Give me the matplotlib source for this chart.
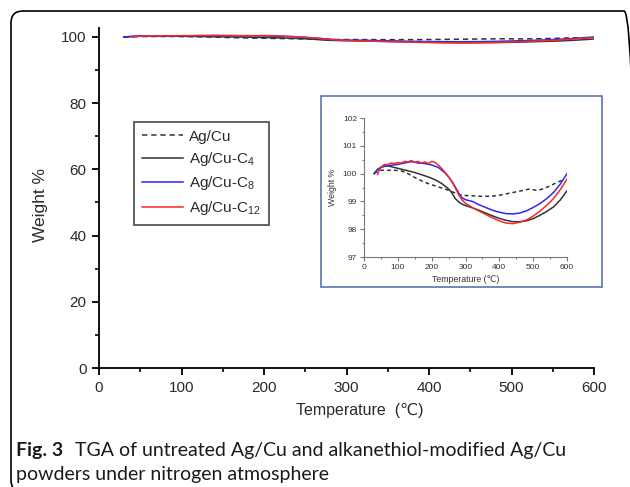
import matplotlib
matplotlib.use("Agg")
import matplotlib.pyplot as plt
import matplotlib.patches as mpatches
from matplotlib.transforms import IdentityTransform

# ---------------- data ----------------
agcu_T = [30, 40, 50, 70, 90, 110, 130, 150, 170, 190, 210, 230, 250, 270, 290, 320, 350, 380,
          400, 420, 440, 460, 480, 490, 500, 510, 530, 550, 570, 590]
agcu_W = [100.0, 100.08, 100.12, 100.12, 100.12, 100.10, 100.0, 99.86, 99.74, 99.64, 99.56, 99.48,
          99.40, 99.30, 99.22, 99.20, 99.18, 99.19, 99.22, 99.27, 99.32, 99.37, 99.42, 99.45, 99.42,
          99.40, 99.45, 99.56, 99.68, 99.78]

c4_T = [30, 40, 50, 60, 70, 90, 110, 130, 150, 170, 190, 210, 230, 250, 260, 270, 280, 290, 300,
        320, 340, 360, 380, 400, 420, 440, 460, 480, 500, 520, 540, 560, 580, 600]
c4_W = [100.0, 100.15, 100.22, 100.26, 100.28, 100.22, 100.16, 100.10, 100.04, 99.96, 99.88, 99.78,
        99.64, 99.45, 99.30, 99.10, 98.98, 98.90, 98.85, 98.77, 98.68, 98.58, 98.48, 98.39, 98.32,
        98.27, 98.27, 98.30, 98.38, 98.50, 98.64, 98.80, 99.05, 99.38]

c8_T = [30, 40, 50, 60, 80, 100, 120, 140, 160, 180, 200, 220, 240, 250, 260, 270, 280, 290, 300,
        320, 340, 360, 380, 400, 420, 440, 460, 480, 500, 520, 540, 560, 580, 600]
c8_W = [100.0, 100.15, 100.23, 100.27, 100.30, 100.33, 100.38, 100.43, 100.38, 100.36, 100.31,
        100.22, 100.02, 99.88, 99.72, 99.52, 99.30, 99.13, 99.06, 99.00, 98.88, 98.78, 98.68, 98.61,
        98.56, 98.55, 98.58, 98.66, 98.78, 98.92, 99.10, 99.32, 99.62, 100.0]

c12_T = [40, 45, 50, 60, 70, 80, 90, 100, 110, 120, 130, 140, 150, 160, 170, 180, 190, 200, 210,
         220, 230, 240, 250, 260, 270, 280, 290, 300, 320, 340, 360, 380, 400, 420, 440, 460, 480,
         500, 520, 540, 560, 580, 600]
c12_W = [99.97, 100.12, 100.22, 100.33, 100.32, 100.38, 100.36, 100.40, 100.38, 100.44, 100.42,
         100.47, 100.41, 100.44, 100.38, 100.42, 100.36, 100.44, 100.40, 100.30, 100.18, 100.04,
         99.88, 99.70, 99.48, 99.24, 99.05, 98.93, 98.78, 98.65, 98.53, 98.41, 98.30, 98.22, 98.20,
         98.25, 98.33, 98.47, 98.65, 98.86, 99.10, 99.42, 99.80]

labels = ["Ag/Cu", "Ag/Cu-C$_{4}$", "Ag/Cu-C$_{8}$", "Ag/Cu-C$_{12}$"]
main_xticks = [0, 100, 200, 300, 400, 500, 600]
main_yticks = [0, 20, 40, 60, 80, 100]
inset_yticks = [97, 98, 99, 100, 101, 102]
caption_bold = "Fig. 3"
caption_line1 = "TGA of untreated Ag/Cu and alkanethiol-modified Ag/Cu"
caption_line2 = "powders under nitrogen atmosphere"

# ---------------- style ----------------
sans = ["Liberation Sans", "DejaVu Sans"]
cap_family = ["Lato", "DejaVu Sans"]
plt.rcParams["font.family"] = sans
plt.rcParams["mathtext.fontset"] = "custom"
plt.rcParams["mathtext.rm"] = "Liberation Sans"
plt.rcParams["mathtext.it"] = "Liberation Sans"

series = [
    (agcu_T, agcu_W, dict(color="#333333", ls=(0, (3.5, 2.5)), lw=1.1)),
    (c4_T, c4_W, dict(color="#333333", ls="-", lw=1.1)),
    (c8_T, c8_W, dict(color="#2a2af0", ls="-", lw=1.1)),
    (c12_T, c12_W, dict(color="#f22a2a", ls="-", lw=1.1)),
]

W, H = 630, 487
fig = plt.figure(figsize=(W / 100, H / 100), dpi=100)

def fx(px):
    return px / W

def fy(py):
    return 1 - py / H

# ---------------- main axes ----------------
ax = fig.add_axes([fx(99), fy(368), fx(594) - fx(99), fy(28) - fy(368)])
handles = []
for (t, w, st), lab in zip(series, labels):
    h, = ax.plot(t, w, label=lab, **st)
    handles.append(h)
ax.set_xlim(0, 600)
ax.set_ylim(0, 102.7)
ax.set_xticks(main_xticks)
ax.set_xticks([50, 150, 250, 350, 450, 550], minor=True)
ax.set_yticks(main_yticks)
ax.set_yticks([10, 30, 50, 70, 90], minor=True)
for s in ["top", "right"]:
    ax.spines[s].set_visible(False)
for s in ["left", "bottom"]:
    ax.spines[s].set_linewidth(1.3)
    ax.spines[s].set_color("black")
ax.tick_params(which="major", direction="out", length=5, width=1.3, labelsize=11,
               labelcolor="#2a2a2a", pad=4)
ax.tick_params(which="minor", direction="out", length=3, width=1.2)
ax.set_ylabel("Weight %", fontsize=12.5, color="#2a2a2a")
ax.yaxis.set_label_coords((40 - 99) / (594 - 99), (368 - 205) / (368 - 28))
ax.set_xlabel("Temperature  (\u2103)", fontsize=11.5, color="#2a2a2a")
ax.xaxis.set_label_coords((360 - 99) / (594 - 99), -(410 - 368) / (368 - 28))
ax.xaxis.label.set_va("center")
ax.yaxis.label.set_va("center")

leg = ax.legend(handles=handles, loc="upper left", bbox_to_anchor=(fx(134), fy(122)),
                bbox_transform=fig.transFigure, borderaxespad=0, fontsize=11,
                handlelength=2.7, handletextpad=0.4, labelspacing=0.42, borderpad=0.5,
                fancybox=False, framealpha=1)
leg.get_frame().set_edgecolor("#555555")
leg.get_frame().set_linewidth(1.3)
for txt in leg.get_texts():
    txt.set_color("#2a2a2a")

# ---------------- inset ----------------
frame = mpatches.Rectangle((fx(321), fy(287)), fx(602) - fx(321), fy(96) - fy(287),
                           transform=fig.transFigure, facecolor="white",
                           edgecolor="#5577aa", lw=1.2, zorder=5)
fig.add_artist(frame)

ins = fig.add_axes([fx(364), fy(257), fx(567) - fx(364), fy(118) - fy(257)], zorder=6)
ins.patch.set_alpha(0)
for (t, w, st) in series:
    st2 = dict(st)
    st2["lw"] = 1.1
    if st2["ls"] != "-":
        st2["ls"] = (0, (2.5, 2))
    ins.plot(t, w, **st2)
ins.set_xlim(0, 600)
ins.set_ylim(97, 102)
ins.set_xticks(main_xticks)
ins.set_xticks([50, 150, 250, 350, 450, 550], minor=True)
ins.set_yticks(inset_yticks)
ins.set_yticks([97.5, 98.5, 99.5, 100.5, 101.5], minor=True)
for s in ["top", "right"]:
    ins.spines[s].set_visible(False)
for s in ["left", "bottom"]:
    ins.spines[s].set_linewidth(0.8)
    ins.spines[s].set_color("#777777")
ins.tick_params(which="major", direction="out", length=3, width=0.8, color="#777777",
                labelsize=6, labelcolor="#333333", pad=2)
ins.tick_params(which="minor", direction="out", length=1.5, width=0.7, color="#777777")
ins.set_xlabel("Temperature (\u2103)", fontsize=6.3, color="#333333", labelpad=3)
ins.set_ylabel("Weight %", fontsize=6.3, color="#333333", labelpad=4)

# ---------------- outer rounded frame ----------------
outer = mpatches.FancyBboxPatch((11, -5), 625, 481, boxstyle="round,pad=0,rounding_size=12",
                                transform=IdentityTransform(), facecolor="none",
                                edgecolor="black", lw=1.2)
fig.add_artist(outer)

# ---------------- caption ----------------
cap_size = 14.0
t_bold = fig.text(fx(16), fy(456), caption_bold, fontsize=cap_size, fontweight="bold",
                  family=cap_family, color="#1a1a1a", va="baseline")
t1 = fig.text(fx(89), fy(456), caption_line1, fontsize=cap_size,
              family=cap_family, color="#1a1a1a", va="baseline")
t2 = fig.text(fx(16), fy(480), caption_line2, fontsize=cap_size,
              family=cap_family, color="#1a1a1a", va="baseline")

# fit caption so that line 1 ends near x = 566 px, with a small gap after the bold label
r = fig.canvas.get_renderer()
for _ in range(3):
    fig.canvas.draw()
    bb = t_bold.get_window_extent(r)
    gap = 0.6 * cap_size * 100 / 72
    t1.set_x(fx(bb.x1 + gap))
    fig.canvas.draw()
    end = t1.get_window_extent(r).x1
    cap_size *= (566 - 16) / (end - 16)
    for t in (t_bold, t1, t2):
        t.set_fontsize(cap_size)
fig.canvas.draw()
bb = t_bold.get_window_extent(r)
t1.set_x(fx(bb.x1 + 0.6 * cap_size * 100 / 72))

fig.savefig("out.png", dpi=100)
